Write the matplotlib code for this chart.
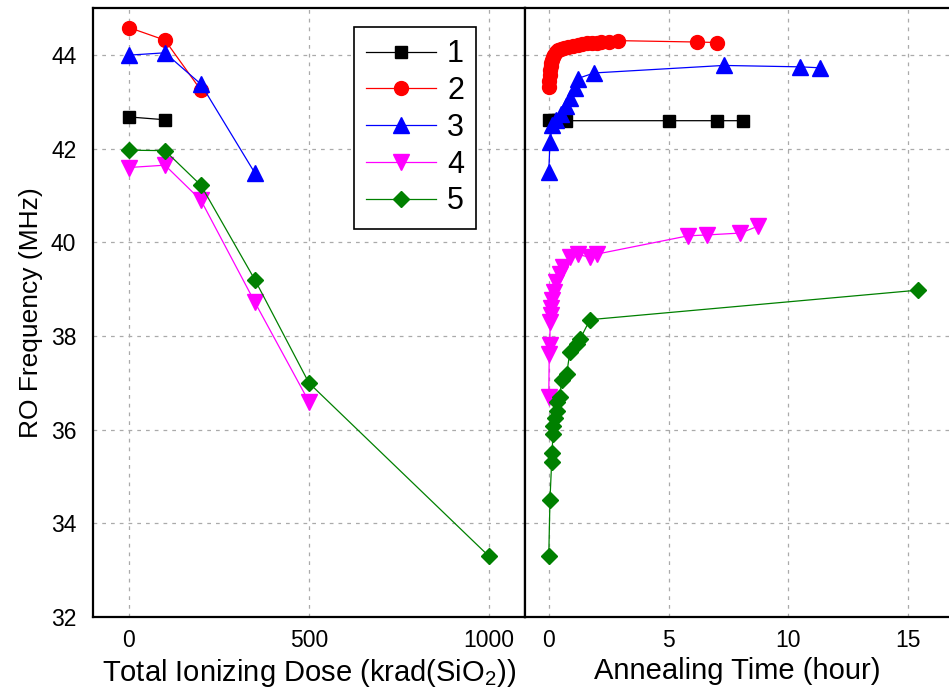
import numpy as np
import matplotlib
matplotlib.use("Agg")
import matplotlib.pyplot as plt

plt.rcParams['font.family'] = ['Liberation Sans', 'DejaVu Sans']
plt.rcParams['mathtext.fontset'] = 'custom'
plt.rcParams['mathtext.rm'] = 'Liberation Sans'
plt.rcParams['mathtext.it'] = 'Liberation Sans'

# total ionizing dose (krad(SiO2))
dose_1 = [0, 100]
freq_dose_1 = [42.68, 42.62]
dose_2 = [0, 100, 200]
freq_dose_2 = [44.59, 44.32, 43.25]
dose_3 = [0, 100, 200, 350]
freq_dose_3 = [44.0, 44.05, 43.38, 41.48]
dose_4 = [0, 100, 200, 350, 500]
freq_dose_4 = [41.6, 41.65, 40.9, 38.72, 36.6]
dose_5 = [0, 100, 200, 350, 500, 1000]
freq_dose_5 = [41.97, 41.96, 41.22, 39.2, 37.0, 33.3]

# annealing time (hour)
t_1 = [0, 0.2, 0.4, 0.7, 5.0, 7.0, 8.1]
freq_t_1 = [42.62, 42.62, 42.61, 42.6, 42.6, 42.6, 42.6]
t_2 = [0, 0.02, 0.04, 0.06, 0.08, 0.1, 0.13, 0.17, 0.22, 0.3, 0.4, 0.5, 0.65,
       0.8, 1.0, 1.2, 1.4, 1.6, 1.8, 2.0, 2.2, 2.5, 2.9, 6.2, 7.0]
freq_t_2 = [43.32, 43.45, 43.58, 43.68, 43.76, 43.84, 43.9, 43.96, 44.01, 44.06,
            44.1, 44.13, 44.16, 44.18, 44.2, 44.22, 44.24, 44.25, 44.26, 44.27,
            44.28, 44.29, 44.31, 44.28, 44.27]
t_3 = [0, 0.05, 0.15, 0.3, 0.5, 0.7, 0.9, 1.1, 1.2, 1.9, 7.3, 10.5, 11.3]
freq_t_3 = [41.5, 42.15, 42.5, 42.62, 42.75, 42.92, 43.08, 43.3, 43.5, 43.62,
            43.78, 43.75, 43.73]
t_4 = [0, 0.02, 0.04, 0.06, 0.08, 0.1, 0.15, 0.2, 0.3, 0.45, 0.6, 0.9, 1.2,
       1.7, 2.0, 5.8, 6.6, 8.0, 8.75]
freq_t_4 = [36.7, 37.62, 37.8, 38.3, 38.45, 38.6, 38.78, 38.95, 39.15, 39.32,
            39.48, 39.68, 39.75, 39.68, 39.75, 40.14, 40.16, 40.2, 40.35]
t_5 = [0, 0.05, 0.12, 0.14, 0.17, 0.17, 0.25, 0.33, 0.33, 0.46, 0.54, 0.75,
       0.88, 1.17, 1.3, 1.72, 15.4]
freq_t_5 = [33.3, 34.5, 35.3, 35.5, 35.9, 36.07, 36.25, 36.4, 36.6, 36.7, 37.07,
            37.2, 37.65, 37.82, 37.93, 38.35, 38.98]

labels = ["1", "2", "3", "4", "5"]
colors = ["black", "red", "blue", "magenta", "green"]
markers = ["s", "o", "^", "v", "D"]
msizes = [9, 10, 11, 11, 8.5]

fig = plt.figure(figsize=(9.49, 6.94), dpi=100)
ax1 = fig.add_axes([0.098, 0.111, 0.455, 0.877])
ax2 = fig.add_axes([0.553, 0.111, 0.447, 0.877], sharey=ax1)

dose_data = [(dose_1, freq_dose_1), (dose_2, freq_dose_2), (dose_3, freq_dose_3),
             (dose_4, freq_dose_4), (dose_5, freq_dose_5)]
time_data = [(t_1, freq_t_1), (t_2, freq_t_2), (t_3, freq_t_3),
             (t_4, freq_t_4), (t_5, freq_t_5)]

for i in range(5):
    x, y = dose_data[i]
    ax1.plot(x, y, color=colors[i], marker=markers[i], ms=msizes[i], lw=0.9,
             label=labels[i])
    x, y = time_data[i]
    ax2.plot(x, y, color=colors[i], marker=markers[i], ms=msizes[i], lw=0.9)

for ax in (ax1, ax2):
    ax.grid(True, linestyle=(0, (3, 4)), color="#aaaaaa", lw=0.9)
    ax.tick_params(length=0, labelsize=16.5)
    ax.tick_params(axis='x', pad=9)
    ax.tick_params(axis='y', pad=12)
    for s in ax.spines.values():
        s.set_linewidth(1.6)

ax1.set_xlim(-100, 1100)
ax1.set_ylim(32, 45)
ax1.set_xticks([0, 500, 1000])
ax1.set_yticks([32, 34, 36, 38, 40, 42, 44])
ax2.set_xlim(-1, 16.7)
ax2.set_xticks([0, 5, 10, 15])
ax2.tick_params(axis='y', labelleft=False)
ax2.spines['right'].set_visible(False)

ax1.set_xlabel(r"Total Ionizing Dose (krad(SiO$_2$))", fontsize=21, labelpad=3)
ax2.set_xlabel("Annealing Time (hour)", fontsize=21, labelpad=3)
ax1.set_ylabel("RO Frequency (MHz)", fontsize=19, labelpad=6)

leg = ax1.legend(loc="upper left", bbox_to_anchor=(0.604, 0.969), borderaxespad=0,
                 fontsize=22, handlelength=2.3, handletextpad=0.35,
                 labelspacing=0.22, fancybox=False, edgecolor="black",
                 framealpha=1)
leg.get_frame().set_linewidth(1.2)

fig.savefig("out.png", dpi=100)
